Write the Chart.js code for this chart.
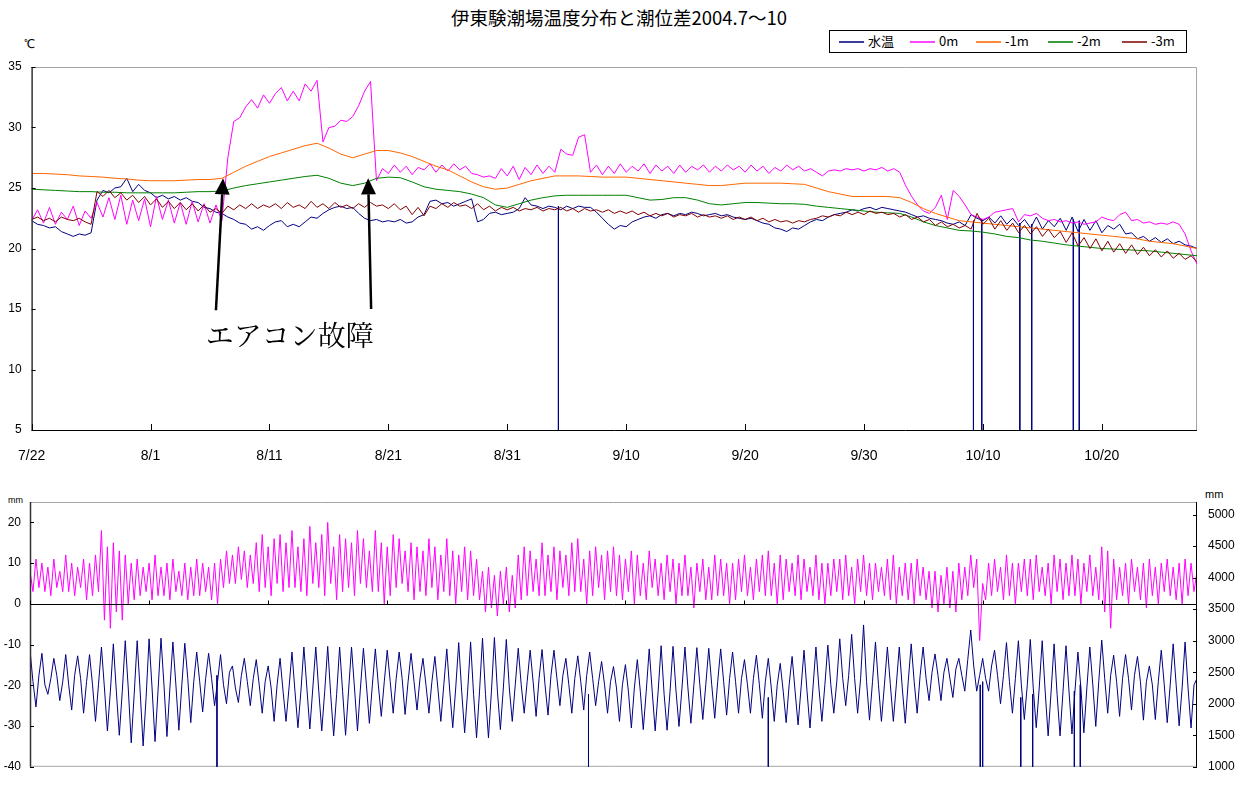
<!DOCTYPE html>
<html lang="ja">
<head>
<meta charset="utf-8">
<title>伊東験潮場温度分布と潮位差2004.7～10</title>
<script src="https://cdn.jsdelivr.net/npm/chart.js@4.4.1/dist/chart.umd.min.js"></script>
<style>
html,body{margin:0;padding:0;background:#fff;}
body{width:1248px;height:785px;position:relative;overflow:hidden;font-family:"Liberation Sans",Arial,sans-serif;color:#000;}
canvas{position:absolute;left:0;}
#topChart{top:0;}
#bottomChart{top:480px;}
.t{position:absolute;white-space:nowrap;line-height:1;}
#title{left:0;width:1238px;top:8px;text-align:center;font-size:18.5px;font-family:"Noto Sans CJK JP",sans-serif;}
#legendBox{position:absolute;left:829px;top:30px;width:358px;height:23px;border:1px solid #000;box-sizing:border-box;background:#fff;}
.lgLine{position:absolute;top:41px;height:1.5px;width:25px;}
.lgText{position:absolute;top:34px;font-size:13px;font-family:"Noto Sans CJK JP",sans-serif;line-height:14px;}
</style>
</head>
<body>
<div id="title" class="t">伊東験潮場温度分布と潮位差2004.7～10</div>
<div class="t" style="left:24px;top:38px;font-size:12px;">℃</div>
<div id="legendBox"></div>
<div class="lgLine" style="left:839px;background:#3c3c9c;"></div><div class="lgText" style="left:868px;">水温</div>
<div class="lgLine" style="left:910px;background:#FF44FF;"></div><div class="lgText" style="left:939px;">0m</div>
<div class="lgLine" style="left:976px;background:#FF8a3c;"></div><div class="lgText" style="left:1005px;">-1m</div>
<div class="lgLine" style="left:1048px;background:#3c9c3c;"></div><div class="lgText" style="left:1077px;">-2m</div>
<div class="lgLine" style="left:1122px;background:#9c4040;"></div><div class="lgText" style="left:1151px;">-3m</div>
<div class="t" style="left:8px;top:496px;font-size:9px;">mm</div>
<div class="t" style="left:1205px;top:489px;font-size:11px;">mm</div>
<canvas id="topChart" width="1248" height="480"></canvas>
<canvas id="bottomChart" width="1248" height="305"></canvas>
<script>
// ---------------- DATA (days counted from 7/22) ----------------
const DATE_LABELS = ['7/22','8/1','8/11','8/21','8/31','9/10','9/20','9/30','10/10','10/20'];
const DATE_TICKS = [0,10,20,30,40,50,60,70,80,90];
const LEVEL_TICKS = [1000,1500,2000,2500,3000,3500,4000,4500,5000];
const TEMP_STEP_DAYS = 0.5;
const SMOOTH_STEP_DAYS = 1;
const TIDE_STEP_DAYS = 0.25;

// 水温 (every 0.5 day)
const waterTemp = [
22.3,22.0,21.9,21.7,21.8,21.4,21.2,21.0,21.2,21.1,
21.3,24.0,24.8,24.6,25.0,25.1,25.8,24.7,25.3,24.8,
24.6,24.2,24.4,24.1,24.3,24.0,24.2,23.9,23.8,23.4,
23.3,23.0,22.9,22.6,22.4,22.1,22.0,21.6,21.8,21.5,
21.9,22.2,22.3,21.8,22.0,21.8,22.2,22.6,22.5,22.9,
23.2,23.4,23.5,23.3,23.4,22.9,22.5,22.3,22.4,22.2,
22.3,22.2,22.4,22.1,22.2,22.6,22.8,23.9,24.0,23.7,
23.8,23.5,23.7,23.9,24.1,22.2,22.4,22.9,23.0,22.8,
22.9,23.0,23.3,24.2,23.6,23.5,23.3,23.5,23.4,23.2,
23.5,23.3,23.5,23.4,23.4,23.0,22.5,22.0,21.6,21.9,
21.8,22.2,22.4,22.6,22.7,22.5,22.8,22.9,22.7,22.9,
22.8,23.0,22.9,22.7,22.8,22.9,22.7,22.8,22.6,22.5,
22.4,22.5,22.3,22.1,22.0,21.7,21.6,21.4,21.7,21.6,
21.9,22.2,22.4,22.3,22.6,22.8,22.9,23.0,23.2,23.1,
23.3,23.4,23.2,23.4,23.3,23.2,23.1,23.0,22.8,22.6,
22.7,22.5,22.4,22.3,22.1,22.0,22.2,21.9,22.8,22.5,
22.3,22.6,22.1,22.7,22.0,22.5,21.9,22.4,21.7,22.6,
21.6,22.3,21.8,22.5,21.5,22.6,21.4,22.4,21.5,22.3,
21.3,21.9,21.6,22.0,21.2,21.3,20.8,21.0,20.6,20.9,
20.5,20.8,20.4,20.6,20.3,20.2,20.0
];
// 水温 sensor drop-outs (day, reading just before the drop)
const waterTempDropDays = [44.3,79.2,79.9,83.1,84.1,87.6,88.1];
const waterTempDropFrom = [23.5,22.3,22.4,22.1,22.0,22.4,22.3];

// 0m (every 0.5 day)
const temp0m = [
22.3,23.2,22.1,23.4,22.0,23.0,22.4,23.5,21.9,23.1,
22.5,23.8,22.6,24.2,22.4,24.4,22.0,24.0,22.3,24.1,
21.8,24.3,22.4,24.0,22.1,23.8,22.0,23.9,22.2,23.7,
22.1,23.6,22.3,27.5,30.5,30.8,31.7,32.3,31.6,32.7,
32.0,32.8,33.3,32.2,33.0,32.2,33.6,33.0,33.9,28.8,
30.0,30.1,30.6,30.5,30.9,31.8,33.0,33.8,25.6,26.6,
26.2,26.9,26.3,26.8,26.1,26.7,26.5,27.0,26.3,26.9,
26.4,27.0,26.5,26.8,26.2,26.1,25.9,26.0,25.8,26.6,
26.0,26.8,25.7,26.7,26.1,26.9,26.2,26.8,26.3,28.2,
27.8,27.7,29.2,29.4,26.3,26.9,26.1,26.8,26.2,27.0,
26.3,26.8,26.4,27.0,26.2,26.9,26.4,26.8,26.2,26.9,
26.3,26.8,26.5,26.9,26.3,26.8,26.4,26.9,26.5,26.8,
26.3,26.9,26.4,26.8,26.2,26.7,26.4,26.9,26.5,26.8,
26.4,26.6,26.3,26.0,26.4,26.5,26.4,26.6,26.5,26.6,
26.4,26.6,26.5,26.7,26.4,26.6,26.3,25.2,24.3,23.6,
23.1,22.9,23.4,24.4,22.4,24.8,24.3,23.6,22.8,22.6,
22.4,22.6,23.0,23.1,23.2,23.3,22.2,22.8,22.7,22.9,
22.5,22.3,22.4,22.2,22.3,22.1,22.2,22.0,22.1,22.2,
22.6,22.4,22.3,22.8,23.0,22.3,22.4,22.1,22.2,22.0,
22.1,22.0,22.2,22.0,21.2,19.8,18.7
];

// -1m (daily)
const temp1m = [
26.2,26.2,26.15,26.1,26.0,25.95,25.9,25.8,25.75,25.65,
25.6,25.6,25.6,25.65,25.7,25.7,25.8,26.3,26.8,27.2,
27.6,27.9,28.2,28.5,28.7,28.3,27.8,27.5,27.8,28.1,
28.1,27.9,27.6,27.2,26.8,26.5,26.0,25.5,25.1,24.9,
25.0,25.3,25.6,25.8,26.0,26.0,26.0,25.95,25.9,25.9,
25.9,25.8,25.7,25.6,25.5,25.4,25.3,25.2,25.2,25.3,
25.4,25.4,25.4,25.4,25.35,25.3,25.0,24.7,24.5,24.3,
24.3,24.3,24.3,24.2,23.8,23.3,22.9,22.6,22.3,22.2,
22.1,22.0,21.9,21.8,21.7,21.6,21.5,21.4,21.3,21.2,
21.1,21.0,20.9,20.8,20.6,20.5,20.4,20.2,20.0
];

// -2m (daily)
const temp2m = [
24.9,24.85,24.8,24.75,24.7,24.7,24.65,24.65,24.6,24.6,
24.6,24.6,24.6,24.65,24.7,24.7,24.75,25.0,25.2,25.35,
25.5,25.65,25.8,25.95,26.05,25.8,25.4,25.2,25.4,25.8,
25.9,25.85,25.5,25.1,24.9,24.8,24.7,24.5,24.2,23.6,
23.4,23.7,24.0,24.2,24.35,24.4,24.4,24.4,24.4,24.4,
24.4,24.2,24.0,24.05,24.2,24.2,24.0,23.7,23.6,23.7,
23.8,23.8,23.75,23.7,23.7,23.65,23.5,23.4,23.3,23.2,
23.1,23.0,22.95,22.9,22.6,22.2,21.9,21.7,21.5,21.45,
21.35,21.2,21.0,20.9,20.7,20.6,20.45,20.3,20.2,20.1,
20.0,19.95,19.9,19.85,19.8,19.7,19.6,19.5,19.4
];

// -3m (every 0.5 day)
const temp3m = [
22.4,22.6,22.3,22.5,22.2,22.6,22.4,22.3,22.5,22.2,
22.0,24.7,24.3,24.8,24.2,24.6,24.0,24.4,23.8,24.3,
23.6,24.1,23.4,23.9,23.3,23.8,23.2,23.7,23.1,23.6,
23.0,23.3,22.9,23.5,23.2,23.6,23.3,23.7,23.3,23.6,
23.4,23.7,23.3,23.8,23.4,23.6,23.3,23.9,23.4,23.7,
23.3,23.8,23.4,23.6,23.3,23.7,23.4,23.8,23.5,23.6,
23.3,23.7,23.2,23.5,22.8,23.4,22.7,23.5,23.3,23.7,
23.4,23.8,23.5,23.6,23.3,23.7,23.2,23.5,23.1,23.4,
23.2,23.4,23.1,23.3,23.2,23.4,23.1,23.3,23.2,23.4,
23.1,23.3,23.0,23.3,23.1,23.2,23.0,23.2,22.9,23.1,
22.9,23.1,22.8,23.0,22.7,22.9,22.7,22.9,22.6,22.8,
22.7,22.9,22.6,22.8,22.6,22.7,22.5,22.7,22.4,22.6,
22.4,22.6,22.3,22.5,22.2,22.4,22.2,22.3,22.1,22.3,
22.2,22.4,22.5,22.7,22.6,22.8,22.7,23.0,22.8,23.0,
22.8,23.1,22.9,23.0,22.8,22.9,22.6,22.8,22.4,22.6,
22.2,22.4,21.9,22.2,21.8,22.0,21.7,21.9,21.6,22.9,
22.0,22.5,21.6,22.3,21.5,22.1,21.3,21.9,21.2,21.8,
21.0,21.6,20.9,21.4,20.5,21.3,20.2,20.9,20.0,20.8,
19.8,20.6,19.7,20.4,19.6,20.3,19.5,20.1,19.4,19.9,
19.3,19.8,19.2,19.6,19.1,19.4,18.9
];

// 潮位差 (mm, left axis, every 0.25 day)
const tideDiff = [
8,3,11,4, 10,3,9,2, 11,4,8,3, 12,3,10,2, 9,4,11,1,
10,2,12,3, 18,-4,14,-6, 15,-2,13,-4, 12,0,10,1, 11,2,9,3,
10,1,12,2, 9,2,10,1, 11,3,8,2, 10,1,9,2, 11,2,10,3,
9,1,10,0, 11,4,13,5, 12,5,14,6, 13,4,12,5, 15,3,17,4,
14,2,16,5, 17,3,15,4, 18,4,14,3, 16,2,19,5, 15,4,17,2,
20,5,14,1, 17,3,16,4, 15,2,18,5, 16,4,13,3, 18,3,15,0,
14,2,17,4, 16,5,13,3, 15,1,14,3, 13,2,16,4, 14,1,12,3,
16,2,13,0, 12,3,14,1, 13,2,11,1, 8,-2,9,-1, 7,-3,8,0,
9,-2,7,-1, 12,1,14,2, 13,3,11,2, 15,2,12,3, 14,1,13,4,
12,2,15,3, 16,3,11,0, 13,2,14,4, 12,1,13,3, 14,2,12,1,
11,3,13,0, 12,2,10,1, 13,4,11,2, 10,1,12,3, 11,0,10,2,
12,2,9,-1, 10,3,11,1, 9,1,12,2, 11,2,10,0, 10,1,11,3,
12,2,9,1, 11,3,12,2, 13,2,10,0, 12,1,11,3, 10,2,12,1,
11,3,9,2, 12,1,10,0, 10,2,11,3, 11,1,12,2, 9,0,11,3,
12,2,10,1, 10,3,9,2, 11,1,12,0, 9,2,10,1, 10,0,11,2,
9,1,8,-1, 8,-2,7,0, 9,-1,8,-2, 10,1,9,2, 12,4,11,-9,
5,1,10,2, 11,3,9,1, 12,2,10,0, 10,3,11,2, 11,1,12,3,
9,2,10,0, 12,3,11,1, 10,2,12,2, 11,0,10,3, 12,2,9,1,
14,-2,13,-6, 11,1,9,2, 10,0,11,3, 9,1,10,-1, 11,2,9,0,
10,3,11,2, 9,1,10,0, 11,2,10,3,
8
];

// 潮位 (mm, right axis, every 0.25 day)
const tideLevel = [
2850,2350,1950,2450, 2800,2300,2150,2400, 2720,2450,2050,2350, 2780,2300,1900,2450, 2760,2400,1850,2350,
2780,2300,1720,2300, 2900,2250,1570,2200, 2950,2200,1500,2200, 3000,2250,1380,2150, 3000,2200,1330,2100,
3030,2250,1400,2200, 3040,2300,1480,2250, 2980,2300,1580,2300, 2960,2400,1700,2350, 2820,2350,1870,2400,
2800,2400,1970,2350, 2780,2300,2000,2500, 2600,2250,2020,2450, 2720,2350,1970,2400, 2700,2300,1850,2350,
2600,2250,1720,2300, 2720,2200,1720,2250, 2820,2200,1620,2200, 2900,2250,1600,2250, 2900,2200,1570,2200,
2910,2150,1490,2150, 2900,2200,1500,2200, 2900,2250,1570,2250, 2880,2300,1690,2300, 2870,2300,1800,2350,
2850,2350,1850,2400, 2820,2400,1830,2350, 2800,2350,1900,2400, 2720,2300,1850,2350, 2750,2250,1720,2300,
2870,2200,1620,2250, 2970,2200,1540,2200, 2980,2150,1460,2200, 3040,2150,1460,2200, 3050,2200,1590,2250,
3020,2250,1720,2300, 2880,2300,1850,2350, 2850,2350,1800,2400, 2860,2300,1820,2450, 2850,2400,1970,2450,
2720,2300,1850,2400, 2760,2350,1900,2450, 2820,2400,1970,2350, 2670,2300,1850,2350, 2590,2250,1720,2300,
2620,2200,1615,2250, 2700,2200,1590,2200, 2870,2200,1570,2200, 2920,2150,1580,2200, 2910,2200,1640,2250,
2900,2250,1690,2300, 2890,2300,1750,2300, 2880,2300,1770,2350, 2870,2350,1820,2400, 2820,2350,1850,2400,
2700,2300,1850,2400, 2770,2300,1770,2350, 2720,2250,1720,2300, 2640,2200,1700,2300, 2750,2200,1665,2250,
2850,2200,1615,2250, 2900,2250,1720,2300, 2930,2300,1850,2350, 3030,2400,1970,2450, 3100,2400,1850,2400,
3250,2350,1740,2350, 2980,2300,1720,2300, 2900,2300,1720,2300, 2900,2250,1690,2350, 2950,2350,1850,2450,
2900,2400,2050,2500, 2790,2450,2050,2500, 2720,2400,2100,2550, 2720,2450,2200,2700, 3170,2600,2200,2450,
2720,2400,2200,2600, 2850,2450,2000,2450, 2970,2350,1850,2400, 3000,2300,1750,2300, 3020,2250,1620,2250,
3000,2200,1490,2200, 2950,2150,1490,2200, 2920,2200,1520,2200, 2820,2250,1540,2250, 2900,2300,1640,2350,
3010,2400,1850,2450, 2770,2350,1800,2400, 2780,2400,1900,2450, 2750,2350,1740,2350, 2600,2300,1750,2350,
2850,2300,1700,2300, 2950,2300,1650,2250, 2980,2250,1615,2300,
2400
];
// 潮位 gauge drop-outs (day, level just before the drop)
const tideDropDays = [15.7,46.9,62.0,79.8,80.0,83.2,84.2,87.7,88.2];
const tideDropFrom = [2450,2150,2100,2300,2350,2100,2150,2200,2300];

// ---------------- BUILD ----------------
function toPoints(values, step){ return values.map((v,i)=>({x:i*step, y:v})); }
function dropSegments(days, from){
  const out = [];
  days.forEach((d,i)=>{ out.push({x:d,y:from[i]},{x:d,y:0},{x:d,y:null}); });
  return out;
}
const dateLabel = v => { const i = DATE_TICKS.indexOf(v); return i >= 0 ? DATE_LABELS[i] : ''; };

Chart.defaults.font.family = '"Liberation Sans", Arial, sans-serif';
Chart.defaults.font.size = 12;
Chart.defaults.color = '#000';

const lineDefaults = {borderWidth:1, pointRadius:0, tension:0, fill:false, spanGaps:false};

// ----- top chart plugins -----
const topFrame = {
  id:'topFrame',
  beforeDatasetsDraw(chart){
    const {ctx, chartArea:a} = chart;
    ctx.save();
    ctx.strokeStyle = '#a6a6a6'; ctx.lineWidth = 1;
    ctx.beginPath();
    ctx.moveTo(a.left, a.top + 0.5); ctx.lineTo(a.right - 0.5, a.top + 0.5); ctx.lineTo(a.right - 0.5, a.bottom);
    ctx.stroke();
    ctx.restore();
  },
  afterDatasetsDraw(chart){
    const {ctx, chartArea:a, scales:{x, y}} = chart;
    ctx.save();
    ctx.strokeStyle = '#333'; ctx.lineWidth = 1.5;
    ctx.beginPath(); ctx.moveTo(a.left + 0.5, a.top); ctx.lineTo(a.left + 0.5, a.bottom); ctx.stroke();
    ctx.strokeStyle = '#000'; ctx.lineWidth = 1;
    ctx.beginPath(); ctx.moveTo(a.left, a.bottom + 0.5); ctx.lineTo(a.right, a.bottom + 0.5); ctx.stroke();
    ctx.beginPath();
    y.ticks.forEach(t => { const py = Math.round(y.getPixelForValue(t.value)) + 0.5; ctx.moveTo(a.left, py); ctx.lineTo(a.left + 4, py); });
    DATE_TICKS.forEach(d => { const px = Math.round(x.getPixelForValue(d)) + 0.5; ctx.moveTo(px, a.bottom); ctx.lineTo(px, a.bottom - 6); });
    ctx.stroke();
    ctx.restore();
  }
};

const AC_NOTE = {
  text:'エアコン故障', day:21.7, temp:12.8,
  arrows:[{tipDay:16.1, tipT:25.8, tailDay:15.5, tailT:14.9},{tipDay:28.3, tipT:25.8, tailDay:28.55, tailT:15.0}]
};
const noteLayer = {
  id:'noteLayer',
  afterDraw(chart){
    const {ctx, scales:{x, y}} = chart;
    ctx.save();
    ctx.fillStyle = '#000'; ctx.strokeStyle = '#000';
    AC_NOTE.arrows.forEach(ar => {
      const tx = x.getPixelForValue(ar.tipDay), ty = y.getPixelForValue(ar.tipT);
      const sx = x.getPixelForValue(ar.tailDay), sy = y.getPixelForValue(ar.tailT);
      const len = Math.hypot(tx - sx, ty - sy), ux = (tx - sx)/len, uy = (ty - sy)/len;
      const hl = 16, hw = 7.5;
      const bx = tx - ux*hl, by = ty - uy*hl;
      ctx.lineWidth = 2.5;
      ctx.beginPath(); ctx.moveTo(sx, sy); ctx.lineTo(bx, by); ctx.stroke();
      ctx.beginPath();
      ctx.moveTo(tx, ty);
      ctx.lineTo(bx - uy*hw, by + ux*hw);
      ctx.lineTo(bx + uy*hw, by - ux*hw);
      ctx.closePath(); ctx.fill();
    });
    ctx.font = '28px "Noto Serif CJK JP", "Noto Sans CJK JP", serif';
    ctx.textAlign = 'center'; ctx.textBaseline = 'middle';
    ctx.fillText(AC_NOTE.text, x.getPixelForValue(AC_NOTE.day), y.getPixelForValue(AC_NOTE.temp));
    ctx.restore();
  }
};

new Chart(document.getElementById('topChart'), {
  type:'line',
  data:{datasets:[
    {label:'水温', data:toPoints(waterTemp, TEMP_STEP_DAYS), borderColor:'#000080', order:5, ...lineDefaults},
    {label:'水温 欠測', data:dropSegments(waterTempDropDays, waterTempDropFrom), borderColor:'#000080', order:5, ...lineDefaults},
    {label:'0m', data:toPoints(temp0m, TEMP_STEP_DAYS), borderColor:'#FF00FF', order:4, ...lineDefaults},
    {label:'-1m', data:toPoints(temp1m, SMOOTH_STEP_DAYS), borderColor:'#FF6600', order:3, ...lineDefaults},
    {label:'-2m', data:toPoints(temp2m, SMOOTH_STEP_DAYS), borderColor:'#008000', order:2, ...lineDefaults},
    {label:'-3m', data:toPoints(temp3m, TEMP_STEP_DAYS), borderColor:'#800000', order:1, ...lineDefaults}
  ]},
  options:{
    responsive:false, animation:false, events:[],
    layout:{padding:{top:67, right:51, left:0, bottom:0}},
    plugins:{legend:{display:false}, title:{display:false}, tooltip:{enabled:false}},
    scales:{
      x:{type:'linear', min:0, max:98,
         grid:{display:false, drawTicks:false}, border:{display:false},
         ticks:{stepSize:10, includeBounds:false, autoSkip:false, maxRotation:0, padding:18,
                font:{size:14}, callback:dateLabel},
         afterFit:s=>{s.height = 50;}},
      y:{min:5, max:35,
         grid:{display:false, drawTicks:false}, border:{display:false},
         ticks:{stepSize:5, includeBounds:false, padding:10, callback:v=>String(v)},
         afterFit:s=>{s.width = 30;}}
    }
  },
  plugins:[topFrame, noteLayer]
});

// ----- bottom chart -----
const bottomFrame = {
  id:'bottomFrame',
  beforeDatasetsDraw(chart){
    const {ctx, chartArea:a} = chart;
    ctx.save();
    ctx.strokeStyle = '#a6a6a6'; ctx.lineWidth = 1;
    ctx.beginPath();
    ctx.moveTo(a.left, a.top + 0.5); ctx.lineTo(a.right, a.top + 0.5);
    ctx.moveTo(a.left, a.bottom - 0.5); ctx.lineTo(a.right, a.bottom - 0.5);
    ctx.stroke();
    ctx.restore();
  },
  afterDatasetsDraw(chart){
    const {ctx, chartArea:a, scales:{x, y, y2}} = chart;
    ctx.save();
    ctx.strokeStyle = '#333'; ctx.lineWidth = 1.5;
    ctx.beginPath(); ctx.moveTo(a.left + 0.5, a.top); ctx.lineTo(a.left + 0.5, a.bottom); ctx.stroke();
    ctx.strokeStyle = '#000'; ctx.lineWidth = 1;
    ctx.beginPath(); ctx.moveTo(a.right - 0.5, a.top); ctx.lineTo(a.right - 0.5, a.bottom); ctx.stroke();
    const zy = Math.round(y.getPixelForValue(0)) + 0.5;
    ctx.beginPath(); ctx.moveTo(a.left, zy); ctx.lineTo(a.right, zy);
    DATE_TICKS.forEach(d => { const px = Math.round(x.getPixelForValue(d)) + 0.5; ctx.moveTo(px, zy); ctx.lineTo(px, zy - 4); });
    y.ticks.forEach(t => { const py = Math.round(y.getPixelForValue(t.value)) + 0.5; ctx.moveTo(a.left, py); ctx.lineTo(a.left + 4, py); });
    y2.ticks.forEach(t => { const py = Math.round(y2.getPixelForValue(t.value)) + 0.5; ctx.moveTo(a.right, py); ctx.lineTo(a.right - 4, py); });
    ctx.stroke();
    ctx.restore();
  }
};

new Chart(document.getElementById('bottomChart'), {
  type:'line',
  data:{datasets:[
    {label:'潮位差', data:toPoints(tideDiff, TIDE_STEP_DAYS), borderColor:'#FF00FF', yAxisID:'y', order:2, ...lineDefaults},
    {label:'潮位', data:toPoints(tideLevel, TIDE_STEP_DAYS), borderColor:'#000080', yAxisID:'y2', order:1, ...lineDefaults},
    {label:'潮位 欠測', data:dropSegments(tideDropDays, tideDropFrom), borderColor:'#000080', yAxisID:'y2', order:1, ...lineDefaults}
  ]},
  options:{
    responsive:false, animation:false, events:[],
    layout:{padding:{top:22, right:0, left:0, bottom:10}},
    plugins:{legend:{display:false}, title:{display:false}, tooltip:{enabled:false}},
    scales:{
      x:{type:'linear', min:0, max:98, display:false, ticks:{stepSize:10}},
      y:{position:'left', min:-40, max:25,
         grid:{display:false, drawTicks:false}, border:{display:false},
         ticks:{stepSize:10, includeBounds:false, padding:9, callback:v=>String(v)},
         afterFit:s=>{s.width = 30;}},
      y2:{position:'right', min:1000, max:5200,
         grid:{display:false, drawTicks:false}, border:{display:false},
         ticks:{padding:11, callback:v=>String(v)},
         afterBuildTicks:s=>{ s.ticks = LEVEL_TICKS.map(v=>({value:v})); },
         afterFit:s=>{s.width = 51;}}
    }
  },
  plugins:[bottomFrame]
});
</script>
</body>
</html>
